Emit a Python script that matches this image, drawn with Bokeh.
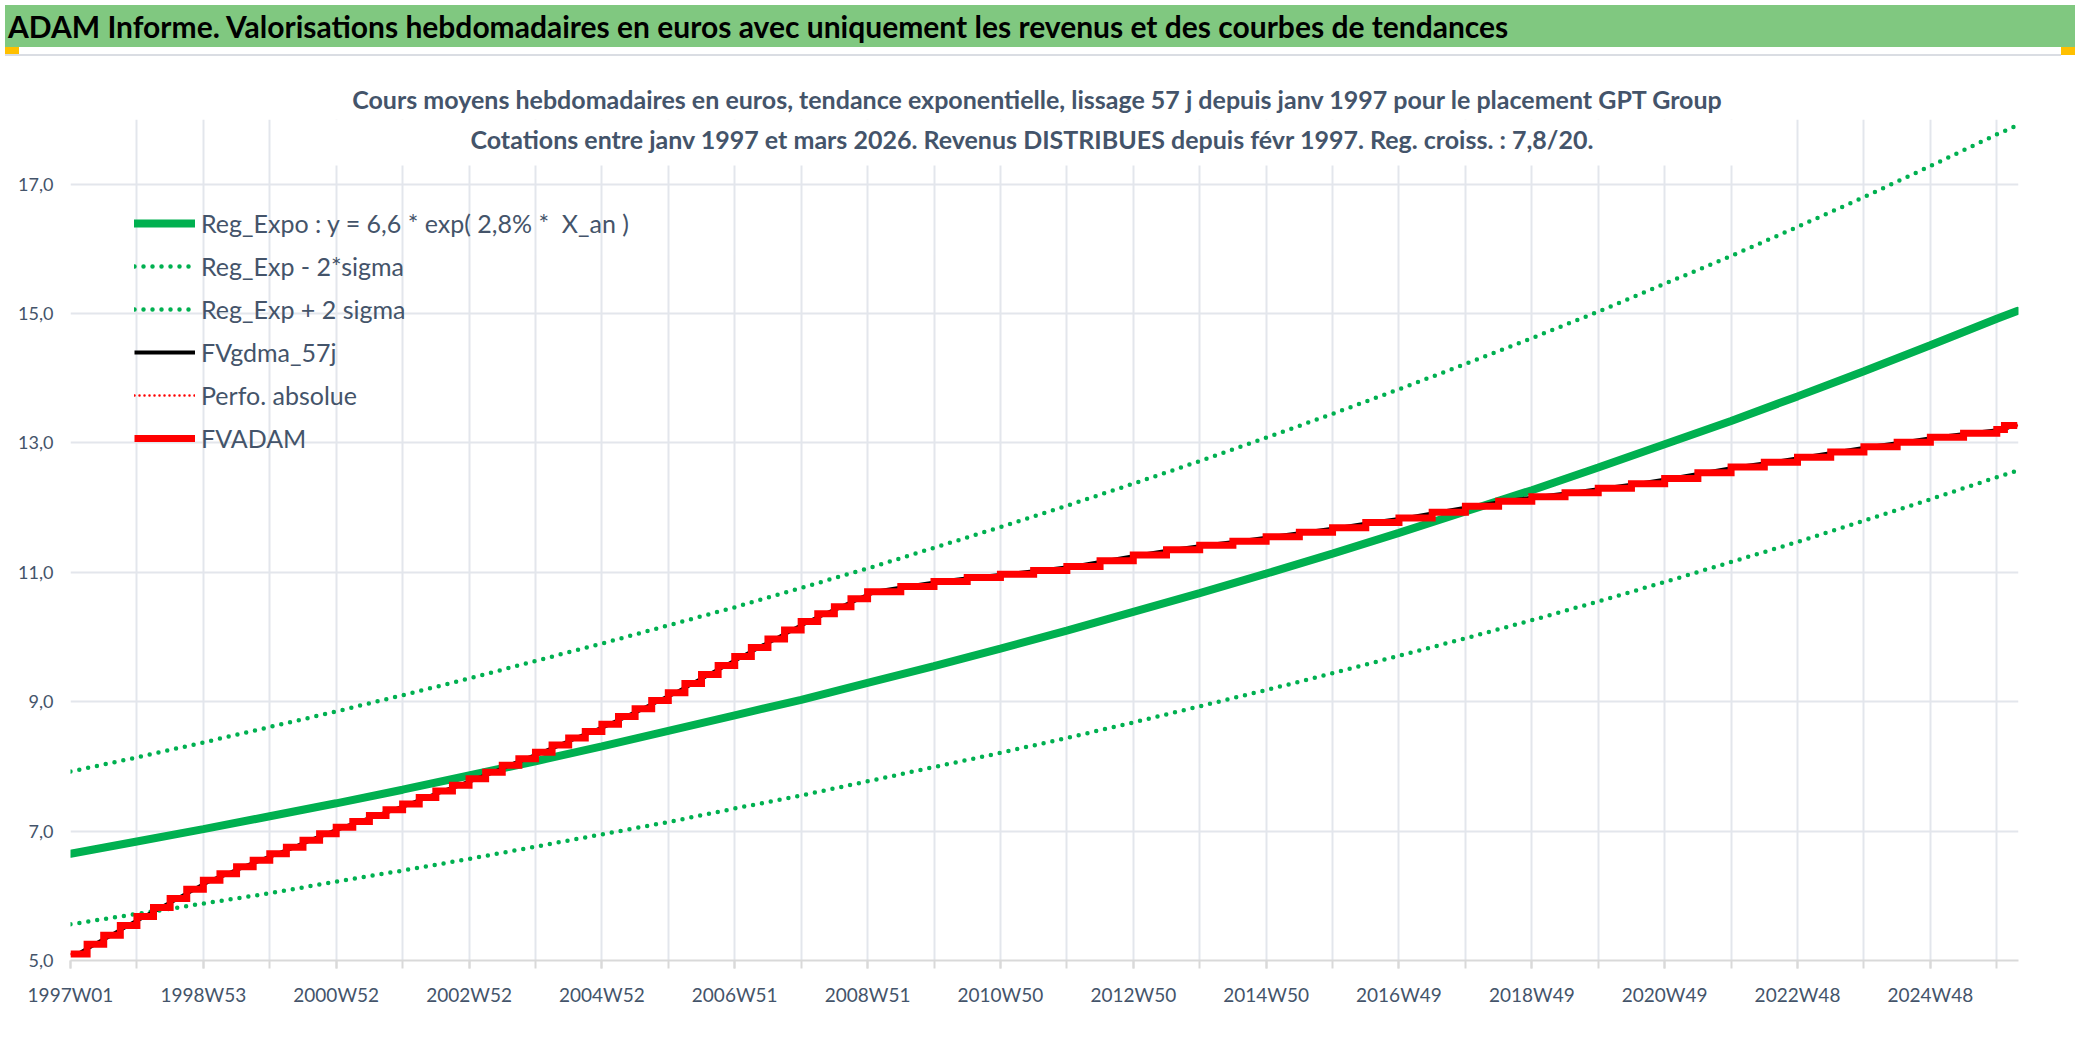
from bokeh.plotting import figure
from bokeh.models import Range1d, FixedTicker, Legend, LegendItem, Label, BoxAnnotation, Div
from bokeh.layouts import column
from bokeh.embed import file_html
from bokeh.resources import INLINE

FONT = "Lato"
TEXT_COLOR = "#44546A"
GREEN = "#00B050"
RED = "#FF0000"

header_title = ("ADAM Informe. Valorisations hebdomadaires en euros avec uniquement "
                "les revenus et des courbes de tendances")
subtitle_1 = ("Cours moyens hebdomadaires en euros, tendance exponentielle, lissage 57 j "
              "depuis janv 1997 pour le placement GPT Group")
subtitle_2 = ("Cotations entre janv 1997 et mars 2026. Revenus DISTRIBUES depuis f\u00e9vr 1997. "
              "Reg. croiss. : 7,8/20.")

# weekly category axis (index 0 = 1997W01)
x_tick_weeks = list(range(0, 1457, 104))
x_tick_labels = ["1997W01", "1998W53", "2000W52", "2002W52", "2004W52", "2006W51",
                 "2008W51", "2010W50", "2012W50", "2014W50", "2016W49", "2018W49",
                 "2020W49", "2022W48", "2024W48"]
x_grid_weeks = list(range(0, 1509, 52))
y_ticks = [5, 7, 9, 11, 13, 15, 17]
y_tick_labels = ["5,0", "7,0", "9,0", "11,0", "13,0", "15,0", "17,0"]

legend_labels = ["Reg_Expo : y = 6,6 * exp( 2,8% *  X_an )", "Reg_Exp - 2*sigma",
                 "Reg_Exp + 2 sigma", "FVgdma_57j", "Perfo. absolue", "FVADAM"]

# trend curves, read at each yearly gridline + last week
trend_weeks = list(range(0, 1509, 52)) + [1524]
reg_expo = [6.65, 6.84, 7.03, 7.23, 7.43, 7.64, 7.86, 8.08, 8.31, 8.55, 8.79, 9.03,
            9.29, 9.55, 9.82, 10.10, 10.39, 10.68, 10.98, 11.29, 11.61, 11.94, 12.27,
            12.62, 12.98, 13.34, 13.72, 14.11, 14.51, 14.92, 15.04]
reg_lower = [5.56, 5.72, 5.88, 6.04, 6.22, 6.39, 6.57, 6.76, 6.95, 7.14, 7.35, 7.55,
             7.77, 7.99, 8.21, 8.44, 8.68, 8.93, 9.18, 9.44, 9.71, 9.98, 10.26, 10.55,
             10.85, 11.16, 11.47, 11.80, 12.13, 12.47, 12.57]
reg_upper = [7.92, 8.14, 8.37, 8.61, 8.85, 9.10, 9.36, 9.63, 9.90, 10.18, 10.46, 10.76,
             11.06, 11.38, 11.70, 12.03, 12.37, 12.72, 13.08, 13.45, 13.83, 14.22, 14.62,
             15.03, 15.46, 15.89, 16.34, 16.80, 17.28, 17.77, 17.91]

# FVADAM staircase: quarterly distributions until 2008, then semi-annual
fvadam_weeks = list(range(0, 624, 13)) + list(range(624, 1509, 26)) + [1514, 1524]
fvadam = [5.10, 5.25, 5.39, 5.54, 5.68, 5.82, 5.96, 6.10,
          6.24, 6.34, 6.45, 6.55, 6.65, 6.75, 6.86, 6.96,
          7.06, 7.15, 7.24, 7.33, 7.42, 7.52, 7.62, 7.71,
          7.81, 7.91, 8.02, 8.12, 8.22, 8.33, 8.44, 8.54,
          8.65, 8.77, 8.89, 9.02, 9.14, 9.28, 9.42, 9.56,
          9.70, 9.84, 9.97, 10.11, 10.24, 10.36, 10.47, 10.59,
          10.70, 10.78, 10.86, 10.92, 10.97, 11.03, 11.09, 11.18,
          11.27, 11.35, 11.42, 11.48, 11.55, 11.62, 11.69, 11.77,
          11.84, 11.93, 12.02, 12.10, 12.17, 12.23, 12.30, 12.37,
          12.45, 12.54, 12.63, 12.70, 12.78, 12.86, 12.94, 13.01,
          13.09, 13.15, 13.21, 13.27, 13.27]
perfo_absolue = list(fvadam)          # hidden below FVADAM in the picture
fvgdma_weeks = [min(w + 6, 1524) for w in fvadam_weeks]
fvgdma = list(fvadam)

W = 2070  # page has an 8px margin

# ---------------- header (title band + first subtitle line) ----------------
header_html = f"""
<div style="position:relative;width:{W}px;height:109px;overflow:hidden;background:white;font-family:Lato,sans-serif;">
  <div style="position:absolute;left:0;top:0;width:{W}px;height:42px;background:#80C880;"></div>
  <div style="position:absolute;left:3px;top:3px;height:36px;line-height:36px;font-size:30px;font-weight:bold;color:#000;white-space:nowrap;">{header_title}</div>
  <div style="position:absolute;left:0;top:42px;width:14px;height:7px;background:#FFC000;"></div>
  <div style="position:absolute;left:{W-14}px;top:42px;width:14px;height:8px;background:#FFC000;"></div>
  <div style="position:absolute;left:0;top:49px;width:{W-14}px;height:2px;background:#DADDE3;"></div>
  <div style="position:absolute;left:0;top:79px;width:2064px;height:30px;line-height:30px;text-align:center;font-size:25px;font-weight:bold;color:{TEXT_COLOR};white-space:nowrap;">{subtitle_1}</div>
</div>
"""
header = Div(text=header_html, width=W, height=109)

# ---------------- main chart ----------------
p = figure(width=W, height=913, x_range=Range1d(0, 1525), y_range=Range1d(5, 18),
           output_backend="svg", toolbar_location=None, title=None,
           min_border_left=70, min_border_right=52, min_border_top=0,
           min_border_bottom=72)
p.outline_line_color = None
p.background_fill_color = "white"
p.border_fill_color = "white"

xa = p.xaxis[0]
xa.ticker = FixedTicker(ticks=x_tick_weeks, minor_ticks=x_grid_weeks)
xa.major_label_overrides = dict(zip(x_tick_weeks, x_tick_labels))
xa.axis_line_color = "#D9D9D9"
xa.axis_line_width = 2
xa.major_tick_line_color = "#D9D9D9"
xa.minor_tick_line_color = "#D9D9D9"
xa.major_tick_line_width = 2
xa.minor_tick_line_width = 2
xa.major_tick_out = 8
xa.major_tick_in = 0
xa.minor_tick_out = 8
xa.minor_tick_in = 0
xa.major_label_standoff = 14
xa.major_label_text_font = FONT
xa.major_label_text_font_size = "19px"
xa.major_label_text_color = TEXT_COLOR

ya = p.yaxis[0]
ya.ticker = FixedTicker(ticks=y_ticks)
ya.major_label_overrides = dict(zip(y_ticks, y_tick_labels))
ya.axis_line_color = None
ya.major_tick_line_color = None
ya.minor_tick_line_color = None
ya.major_tick_out = 0
ya.major_label_standoff = 17
ya.major_label_text_font = FONT
ya.major_label_text_font_size = "18px"
ya.major_label_text_color = TEXT_COLOR

p.xgrid.ticker = FixedTicker(ticks=x_grid_weeks)
p.xgrid.grid_line_color = "#E3E6EC"
p.xgrid.grid_line_width = 2
p.ygrid.grid_line_color = "#E3E6EC"
p.ygrid.grid_line_width = 2

r_lower = p.line(trend_weeks, reg_lower, line_color=GREEN, line_width=4.5,
                 line_dash="0 9", line_cap="round")
r_upper = p.line(trend_weeks, reg_upper, line_color=GREEN, line_width=4.5,
                 line_dash="0 9", line_cap="round")
r_mid = p.line(trend_weeks, reg_expo, line_color=GREEN, line_width=8, line_cap="round")
r_black = p.line(fvgdma_weeks, fvgdma, line_color="black", line_width=4)
r_perfo = p.step(fvadam_weeks, perfo_absolue, mode="after", line_color=RED, line_width=2.5,
                 line_dash="0 5", line_cap="round")
r_red = p.step(fvadam_weeks, fvadam, mode="after", line_color=RED, line_width=7,
               line_join="miter")

# white box behind the chart title (hides the gridlines under it)
box = BoxAnnotation(left=182, right=1333, bottom=17.29, fill_color="white", fill_alpha=1.0,
                    line_color=None)
p.add_layout(box)

p.add_layout(Label(x=962, y=822, x_units="screen", y_units="screen", text=subtitle_2,
                   text_align="center", text_baseline="alphabetic", text_font=FONT,
                   text_font_style="bold", text_font_size="25px", text_color=TEXT_COLOR))

legend = Legend(items=[LegendItem(label=legend_labels[0], renderers=[r_mid]),
                       LegendItem(label=legend_labels[1], renderers=[r_lower]),
                       LegendItem(label=legend_labels[2], renderers=[r_upper]),
                       LegendItem(label=legend_labels[3], renderers=[r_black]),
                       LegendItem(label=legend_labels[4], renderers=[r_perfo]),
                       LegendItem(label=legend_labels[5], renderers=[r_red])],
                location=(64, 503))
legend.background_fill_alpha = 0
legend.border_line_color = None
legend.padding = 0
legend.margin = 0
legend.spacing = 5
legend.glyph_width = 61
legend.glyph_height = 38
legend.label_height = 38
legend.label_standoff = 6
legend.label_text_font = FONT
legend.label_text_font_size = "25px"
legend.label_text_color = TEXT_COLOR
p.add_layout(legend)

layout = column(header, p)
open("out.html", "w").write(file_html(layout, INLINE))
